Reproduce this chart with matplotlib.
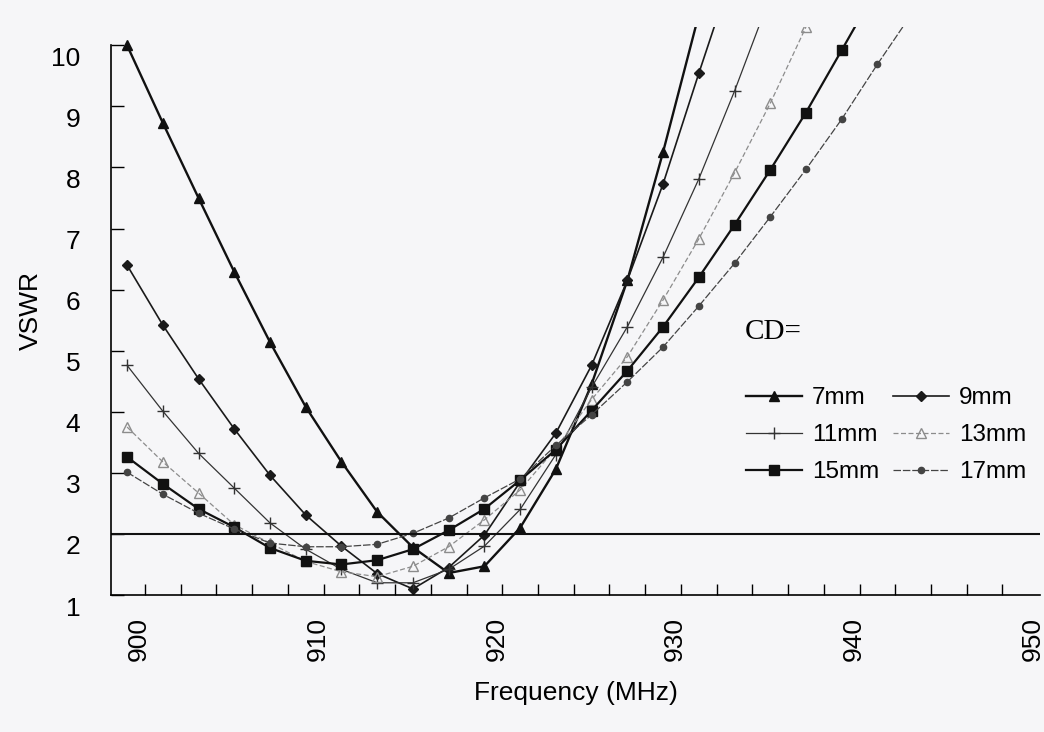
import matplotlib
matplotlib.use("Agg")
import matplotlib.pyplot as plt
from matplotlib.transforms import ScaledTranslation

# -----------------------------------------------------------------------------
# Data
# -----------------------------------------------------------------------------
freq = [900, 902, 904, 906, 908, 910, 912, 914, 916, 918, 920, 922,
        924, 926, 928, 930, 932, 934, 936, 938, 940, 942, 944]

vswr_7mm = [10.0, 8.73, 7.50, 6.29, 5.14, 4.08, 3.18, 2.36, 1.78, 1.36, 1.47,
            2.10, 3.06, 4.45, 6.15, 8.25, 10.5]
vswr_9mm = [6.40, 5.42, 4.54, 3.72, 2.96, 2.31, 1.80, 1.35, 1.10, 1.45, 1.98,
            2.85, 3.65, 4.76, 6.15, 7.73, 9.54, 11.3]
vswr_11mm = [4.76, 4.01, 3.32, 2.75, 2.18, 1.75, 1.42, 1.20, 1.20, 1.42, 1.80,
             2.40, 3.30, 4.40, 5.39, 6.53, 7.81, 9.25, 10.8]
vswr_13mm = [3.75, 3.18, 2.67, 2.15, 1.85, 1.55, 1.38, 1.30, 1.47, 1.79, 2.23,
             2.72, 3.40, 4.20, 4.90, 5.83, 6.83, 7.91, 9.05, 10.3]
vswr_15mm = [3.26, 2.82, 2.41, 2.11, 1.77, 1.56, 1.50, 1.57, 1.75, 2.06, 2.41,
             2.88, 3.38, 4.02, 4.67, 5.39, 6.20, 7.06, 7.96, 8.90, 9.92, 10.95]
vswr_17mm = [3.01, 2.65, 2.34, 2.08, 1.85, 1.79, 1.79, 1.83, 2.01, 2.26, 2.59,
             2.90, 3.45, 3.95, 4.49, 5.06, 5.73, 6.43, 7.19, 7.97, 8.79, 9.69,
             10.55]

labels = ["7mm", "9mm", "11mm", "13mm", "15mm", "17mm"]
series = [vswr_7mm, vswr_9mm, vswr_11mm, vswr_13mm, vswr_15mm, vswr_17mm]

vswr_limit = 2.0
x_ticklabels = [900, 910, 920, 930, 940, 950]
y_ticks = [1, 2, 3, 4, 5, 6, 7, 8, 9, 10]

# line styles per series: (color, lw, linestyle, marker, ms, mfc)
styles = [
    ("#111111", 1.7, "-", "^", 7.5, "#111111"),
    ("#1a1a1a", 1.2, "-", "D", 5.0, "#1a1a1a"),
    ("#333333", 0.9, "-", "+", 8.0, "#333333"),
    ("#8c8c8c", 0.9, (0, (4, 2)), "^", 7.0, "none"),
    ("#111111", 1.6, "-", "s", 6.5, "#111111"),
    ("#444444", 0.9, (0, (6, 1.5)), "o", 4.5, "#444444"),
]

BG = "#f6f6f8"

# -----------------------------------------------------------------------------
# Figure
# -----------------------------------------------------------------------------
fig = plt.figure(figsize=(10.44, 7.32), dpi=100, facecolor=BG)
ax = fig.add_axes([111 / 1044, 1 - 595 / 732, 929 / 1044, (595 - 27) / 732])
ax.set_facecolor(BG)

handles = []
for vals, lab, (c, lw, ls, mk, ms, mfc) in zip(series, labels, styles):
    h, = ax.plot(freq[:len(vals)], vals, color=c, lw=lw, ls=ls, marker=mk,
                 ms=ms, mfc=mfc, mec=c, mew=1.0, label=lab)
    handles.append(h)

ax.axhline(vswr_limit, color="#111111", lw=1.5)

ax.set_xlim(899.1, 951.1)
ax.set_ylim(1, 10.3)

for side in ("top", "right"):
    ax.spines[side].set_visible(False)
ax.spines["left"].set_bounds(1, 10)
ax.spines["left"].set_linewidth(1.2)
ax.spines["bottom"].set_linewidth(1.2)

tick_font = {"family": "Liberation Sans", "size": 19}
ax.set_xticks(x_ticklabels)
ax.set_xticklabels([str(v) for v in x_ticklabels], rotation=90, **tick_font)
ax.set_xticks(list(range(901, 951, 2)), minor=True)
ax.tick_params(axis="x", which="major", length=0, pad=16)
ax.tick_params(axis="x", which="minor", direction="in", length=8, width=1.0)
ax.set_yticks(y_ticks)
ax.set_yticklabels([str(v) for v in y_ticks], **tick_font)
ax.tick_params(axis="y", direction="in", length=9, width=1.0, pad=22)

# labels sit a little off their ticks in the original scan
for lbl in ax.get_yticklabels():
    lbl.set_transform(lbl.get_transform() + ScaledTranslation(0, -0.11, fig.dpi_scale_trans))
for lbl in ax.get_xticklabels():
    lbl.set_transform(lbl.get_transform() + ScaledTranslation(0.12, 0, fig.dpi_scale_trans))

ax.set_xlabel("Frequency (MHz)", family="Liberation Sans", size=19, labelpad=14)
ax.set_ylabel("VSWR", family="Liberation Sans", size=19, labelpad=6)

fig.text(745 / 1044, 1 - 332 / 732, "CD=", family="Liberation Serif", size=21,
         va="center", ha="left")

# legend filled row by row like the original: 7/9, 11/13, 15/17
order = [0, 2, 4, 1, 3, 5]
leg = ax.legend([handles[i] for i in order], [labels[i] for i in order],
                ncol=2, frameon=False, loc="upper left",
                bbox_to_anchor=(729 / 1044, 1 - 370 / 732),
                bbox_transform=fig.transFigure,
                prop={"family": "Liberation Sans", "size": 17.5},
                handlelength=2.3, handletextpad=0.4, columnspacing=0.6,
                labelspacing=0.62, borderpad=0.2)

fig.savefig("out.png", dpi=100, facecolor=BG)
